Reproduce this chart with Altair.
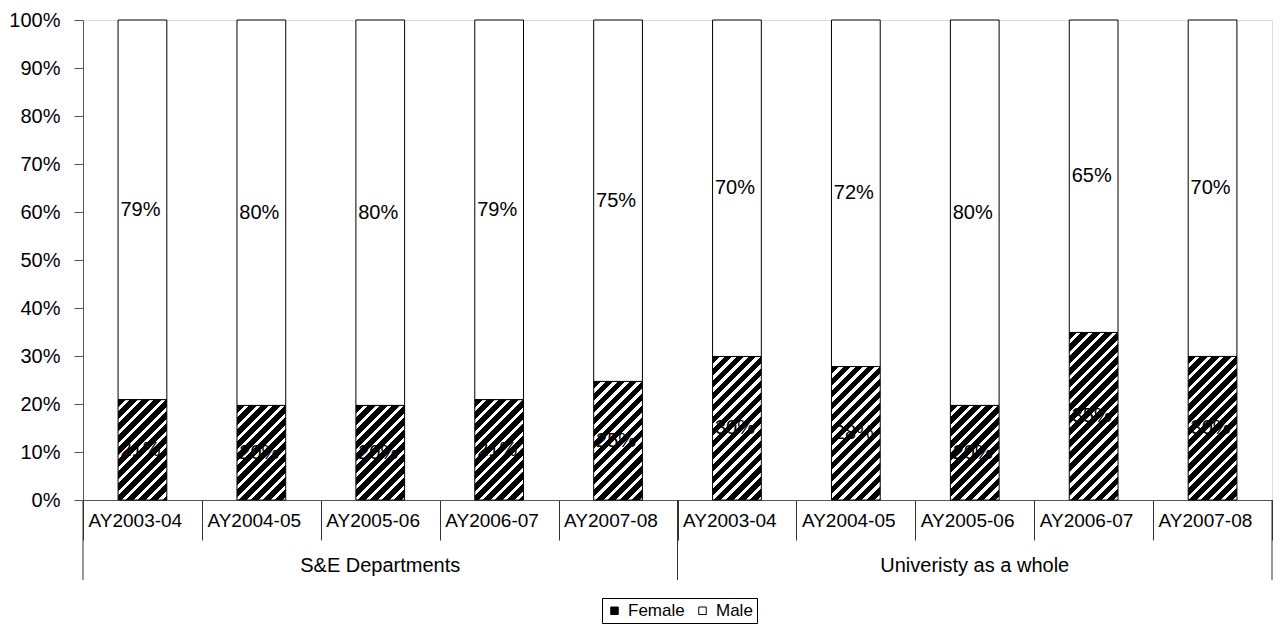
import math
import altair as alt
import pandas as pd

# ---------------- data ----------------
group_names = ["S&E Departments", "Univeristy as a whole"]
years = ["AY2003-04", "AY2004-05", "AY2005-06", "AY2006-07", "AY2007-08"]
female_pct = [20.9, 19.7, 19.7, 20.9, 24.7, 29.9, 27.8, 19.7, 34.9, 29.9]
male_pct = [79.1, 80.3, 80.3, 79.1, 75.3, 70.1, 72.2, 80.3, 65.1, 70.1]
series = ["Female", "Male"]
y_tick_values = [0, 10, 20, 30, 40, 50, 60, 70, 80, 90, 100]

groups = [g for g in group_names for _ in years]
cat_years = years * len(group_names)
keys = [f"{g}|{y}" for g, y in zip(groups, cat_years)]

df = pd.DataFrame({
    "key": keys,
    "group": groups,
    "year": cat_years,
    "female": female_pct,
    "male": male_pct,
})
df["top"] = df["female"] + df["male"]
df["f_mid"] = df["female"] / 2
df["m_mid"] = df["female"] + df["male"] / 2
df["f_lab"] = [f"{round(v)}%" for v in df["female"]]
df["m_lab"] = [f"{round(v)}%" for v in df["male"]]

n_per_group = len(years)
group_mid = pd.DataFrame({
    "key": [keys[i * n_per_group + n_per_group // 2] for i in range(len(group_names))],
    "label": group_names,
})
group_start = pd.DataFrame({"key": [keys[i * n_per_group] for i in range(len(group_names))]})
group_end = pd.DataFrame({"key": [keys[-1]]})

# ---------------- layout / style ----------------
W, H = 1189, 480
BAR_FRAC = 0.41
FONT = "Liberation Sans"
AX = "#555555"
STEP = W / len(keys)

x_scale = alt.Scale(domain=keys, paddingInner=0, paddingOuter=0)
y_scale = alt.Scale(domain=[0, 100], nice=False, zero=True)

x_axis = alt.Axis(
    title=None, tickBand="extent", tickSize=40, tickColor="#333333", domainColor=AX,
    labelExpr="split(datum.label, '|')[1]", labelFontSize=19, labelPadding=-29,
    labelAngle=0, labelColor="black", labelOverlap=False, grid=False, labelFont=FONT,
    labelAlign="left", labelOffset=-(STEP / 2 - 5),
)
y_axis = alt.Axis(
    title=None, values=y_tick_values, labelExpr="datum.value + '%'", tickSize=9,
    tickColor=AX, domainColor=AX, labelFontSize=20, labelPadding=14, grid=False,
    labelColor="black", labelFont=FONT,
)

X = alt.X("key:N", scale=x_scale, axis=x_axis, sort=keys)


def hatch(w, h, period=8.5, black_frac=0.64):
    # diagonal "/" stripes through a bounding-box linear gradient
    k = (1 / h + 1 / w) / (1 / h ** 2 + 1 / w ** 2)
    x2, y2 = k / h, k / w
    n = (w + h) / (math.sqrt(2) * period)
    stops = []
    i = 0
    while i / n < 1:
        s = i / n
        b = min((i + black_frac) / n, 1.0)
        e = min((i + 1) / n, 1.0)
        stops.append(alt.GradientStop(color="black", offset=s))
        stops.append(alt.GradientStop(color="black", offset=b))
        if b < 1.0:
            stops.append(alt.GradientStop(color="white", offset=b))
            stops.append(alt.GradientStop(color="white", offset=e))
        i += 1
    return alt.LinearGradient(gradient="linear", stops=stops, x1=0, y1=0, x2=x2, y2=y2)


base = alt.Chart(df)
bar_w = BAR_FRAC * STEP

male_bars = base.mark_bar(
    stroke="black", strokeWidth=1, width=alt.RelativeBandSize(BAR_FRAC)
).transform_calculate(sex="'Male'").encode(
    x=X,
    y=alt.Y("female:Q", scale=y_scale, axis=y_axis),
    y2="top:Q",
    color=alt.Color(
        "sex:N",
        scale=alt.Scale(domain=series, range=["black", "white"]),
        legend=alt.Legend(
            title=None, orient="none", legendX=519, legendY=578, direction="horizontal",
            labelFontSize=17, labelFont=FONT, symbolType="square", symbolSize=56,
            symbolStrokeColor="black", symbolStrokeWidth=1, strokeColor="black",
            padding=4, columnPadding=9, labelOffset=5, fillColor="white",
        ),
    ),
)

female_layers = []
for k, f in zip(keys, female_pct):
    h = f / 100 * H
    female_layers.append(
        base.transform_filter(alt.datum.key == k).mark_bar(
            fill=hatch(bar_w, h), stroke="black", strokeWidth=1,
            width=alt.RelativeBandSize(BAR_FRAC),
        ).encode(x=X, y=alt.Y("female:Q", scale=y_scale, axis=y_axis))
    )

male_text = base.mark_text(fontSize=20, font=FONT, color="black", dx=-2).encode(
    x=X, y=alt.Y("m_mid:Q", scale=y_scale, axis=y_axis), text="m_lab:N"
)
female_text = base.mark_text(fontSize=20, font=FONT, color="black", dx=-2).encode(
    x=X, y=alt.Y("f_mid:Q", scale=y_scale, axis=y_axis), text="f_lab:N"
)

group_text = alt.Chart(group_mid).mark_text(
    fontSize=20, font=FONT, color="black", baseline="middle"
).encode(x=X, y=alt.value(H + 66), text="label:N")

group_lines = alt.Chart(group_start).mark_rule(color="#333333", strokeWidth=1).encode(
    x=alt.X("key:N", scale=x_scale, axis=x_axis, sort=keys, bandPosition=0),
    y=alt.value(H), y2=alt.value(H + 80),
)
end_line = alt.Chart(group_end).mark_rule(color="#333333", strokeWidth=1).encode(
    x=alt.X("key:N", scale=x_scale, axis=x_axis, sort=keys, bandPosition=1),
    y=alt.value(H), y2=alt.value(H + 80),
)

chart = alt.layer(
    male_bars, *female_layers, male_text, female_text, group_text, group_lines, end_line
).properties(
    width=W, height=H,
    autosize=alt.AutoSizeParams(type="none"),
    padding={"left": 75, "top": 12, "right": 2, "bottom": 124},
).configure_view(stroke="#b0b0b0", strokeWidth=1).configure(font=FONT)

chart.save("out.html", embed_options={"renderer": "svg", "actions": False})
